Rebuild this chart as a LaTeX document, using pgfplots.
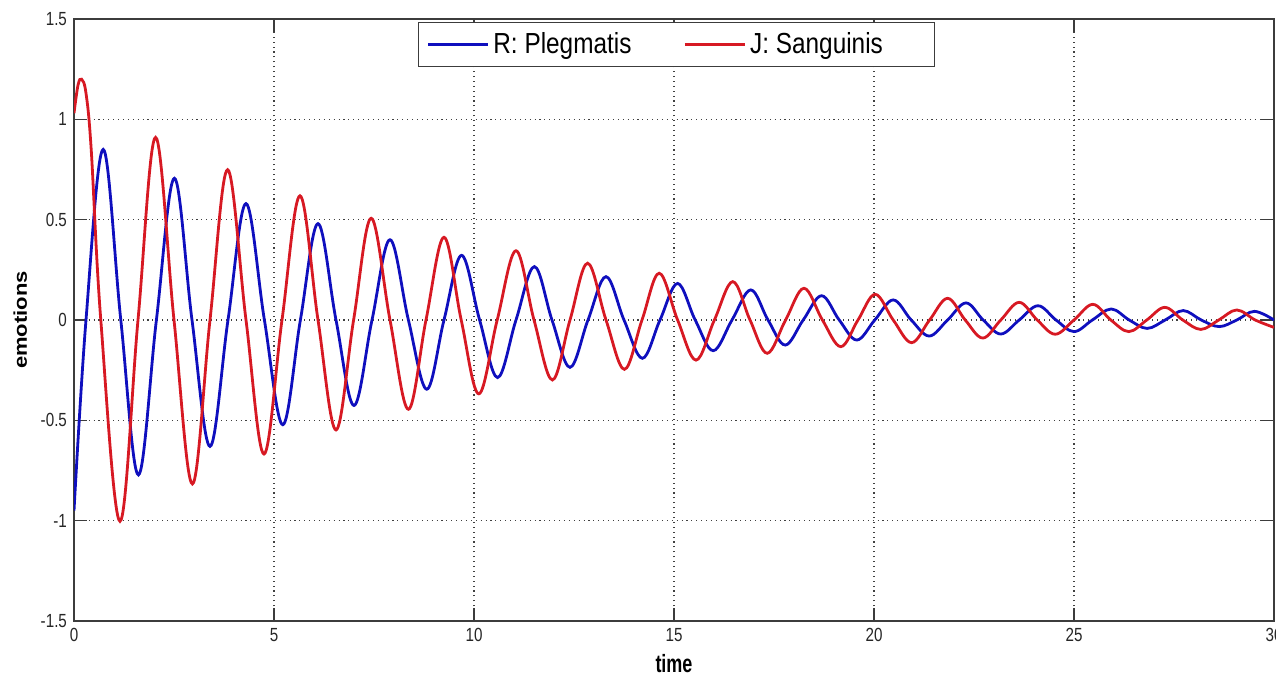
\documentclass[border=0pt]{standalone}
\usepackage{fontspec}
\setmainfont{Liberation Sans}
\usepackage{graphicx}
\usepackage{pgfplots}
\pgfplotsset{compat=1.18}
\definecolor{mblue}{RGB}{15,15,190}
\definecolor{mred}{RGB}{215,25,35}
\definecolor{axcol}{RGB}{60,60,60}
\begin{document}
\begin{tikzpicture}
\begin{axis}[
  scale only axis,
  width=600pt, height=301pt,
  xmin=0, xmax=30, ymin=-1.5, ymax=1.5,
  xtick={0,5,...,30},
  ytick={-1.5,-1,-0.5,0,0.5,1,1.5},
  /pgf/number format/assume math mode=true,
  xticklabel={\scalebox{0.8}[1]{\pgfmathprintnumber{\tick}}},
  yticklabel={\scalebox{0.8}[1]{\pgfmathprintnumber{\tick}}},
  ticklabel style={font=\fontsize{9.5}{10}\selectfont, text=black!85},
  tick align=inside,
  major tick length=6.5pt,
  tick style={axcol, line width=0.6pt},
  axis line style={axcol, line width=0.8pt},
  grid=major,
  major grid style={black!75, line width=0.55pt, dash pattern=on 0.55pt off 1.9pt},
  xlabel={\scalebox{0.72}[1]{\fontsize{12.5}{13}\selectfont\bfseries time}},
  ylabel={\scalebox{1}[0.84]{\fontsize{11}{12}\selectfont\bfseries emotions}},
  xlabel style={at={(axis description cs:0.5,0)}, anchor=base, yshift=-26pt},
  ylabel style={at={(axis description cs:0,0.5)}, anchor=south, yshift=20pt},
  legend columns=2,
  legend style={at={(0.502,0.995)}, anchor=north, draw=axcol, line width=0.5pt,
    font=\fontsize{14.5}{16}\selectfont, inner xsep=4pt, inner ysep=3pt,
    column sep=0pt},
  legend image code/.code={\draw[#1] (0pt,0pt) -- (30pt,0pt);},
  legend cell align=left,
]
\addplot[mblue, line width=1.4pt, smooth, tension=0.6] coordinates {
(0,-0.95) (0.30,0) (0.73,0.85) (1.17,0) (1.61,-0.772) (2.06,0) (2.51,0.706)
(2.95,0) (3.40,-0.63) (3.85,0) (4.30,0.58) (4.76,0) (5.22,-0.522) (5.66,0)
(6.10,0.48) (6.55,0) (7.00,-0.426) (7.45,0) (7.90,0.40) (8.36,0) (8.82,-0.345)
(9.25,0) (9.69,0.322) (10.14,0) (10.59,-0.287) (11.05,0) (11.51,0.266) (11.95,0)
(12.40,-0.236) (12.85,0) (13.30,0.216) (13.75,0) (14.21,-0.191) (14.65,0)
(15.09,0.182) (15.53,0) (15.98,-0.153) (16.45,0) (16.92,0.15) (17.35,0)
(17.78,-0.125) (18.23,0) (18.69,0.121) (19.13,0) (19.57,-0.10) (20.02,0)
(20.48,0.10) (20.93,0) (21.38,-0.08) (21.84,0) (22.30,0.085) (22.73,0)
(23.17,-0.07) (23.63,0) (24.10,0.071) (24.55,0) (25.00,-0.058) (25.46,0)
(25.93,0.055) (26.38,0) (26.83,-0.042) (27.28,0) (27.73,0.047) (28.18,0)
(28.63,-0.033) (29.07,0) (29.51,0.043) (30,0.0)
};
\addplot[mred, line width=1.4pt, smooth, tension=0.6] coordinates {
(0,1.03) (0.10,1.17) (0.19,1.20) (0.30,1.13) (0.43,0.85) (0.67,0) (1.15,-1.003) (1.60,0) (2.04,0.91) (2.50,0)
(2.96,-0.817) (3.40,0) (3.84,0.749) (4.30,0) (4.75,-0.668) (5.20,0)
(5.65,0.619) (6.10,0) (6.55,-0.548) (6.99,0) (7.43,0.507) (7.90,0)
(8.36,-0.445) (8.80,0) (9.25,0.412) (9.68,0) (10.12,-0.368) (10.58,0)
(11.05,0.345) (11.50,0) (11.96,-0.299) (12.40,0) (12.84,0.283) (13.30,0)
(13.76,-0.246) (14.20,0) (14.63,0.233) (15.09,0) (15.55,-0.20) (16.01,0)
(16.47,0.191) (16.90,0) (17.33,-0.166) (17.79,0) (18.25,0.158) (18.71,0)
(19.17,-0.133) (19.60,0) (20.03,0.128) (20.48,0) (20.94,-0.113) (21.39,0)
(21.84,0.108) (22.28,0) (22.72,-0.09) (23.17,0) (23.63,0.088) (24.08,0)
(24.53,-0.071) (25.00,0) (25.47,0.078) (25.92,0) (26.37,-0.058) (26.82,0)
(27.27,0.063) (27.72,0) (28.17,-0.047) (28.62,0) (29.07,0.05) (29.53,0)
(30,-0.037)
};
\legend{\makebox[93pt][l]{\scalebox{0.84}[1]{R: Plegmatis}},\makebox[86pt][l]{\scalebox{0.84}[1]{J: Sanguinis}}}
\end{axis}
\pgfresetboundingbox
\path[use as bounding box] ([shift={(-37pt,-28pt)}]current axis.south west) rectangle ([shift={(1pt,9.5pt)}]current axis.north east);
\end{tikzpicture}
\end{document}
